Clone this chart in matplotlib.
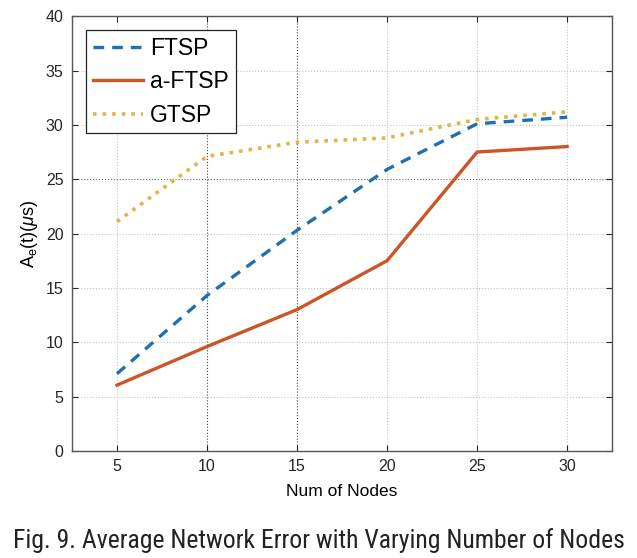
import numpy as np
import matplotlib
matplotlib.use("Agg")
import matplotlib.pyplot as plt
from matplotlib import font_manager

plt.rcParams['font.family'] = ['Liberation Sans', 'DejaVu Sans']
plt.rcParams['mathtext.fontset'] = 'custom'
plt.rcParams['mathtext.rm'] = 'Liberation Sans'
plt.rcParams['mathtext.it'] = 'Liberation Sans:italic'

nodes = [5, 10, 15, 20, 25, 30]
ftsp = [7.1, 14.3, 20.3, 25.9, 30.1, 30.7]
a_ftsp = [6.05, 9.6, 13.0, 17.5, 27.5, 28.0]
gtsp = [21.1, 27.1, 28.4, 28.8, 30.5, 31.2]

fig = plt.figure(figsize=(6.37, 5.58), dpi=100)
ax = fig.add_axes([0.113, 0.192, 0.848, 0.779])

ax.plot(nodes, ftsp, '--', color='#1f70b0', lw=2.4, dashes=(3.2, 2.4), label='FTSP')
ax.plot(nodes, a_ftsp, '-', color='#cc5528', lw=2.4, label='a-FTSP')
ax.plot(nodes, gtsp, ':', color='#e3b446', lw=2.6, label='GTSP')

ax.set_xlim(2.5, 32.5)
ax.set_ylim(0, 40)
ax.set_xticks(nodes)
ax.set_yticks(np.arange(0, 41, 5))
ax.grid(True, color='#c4c4c4', ls=':', lw=0.8)
# the scanned figure shows a few grid lines darker
for i, gl in enumerate(ax.get_xgridlines()):
    if nodes[i] in (10, 15):
        gl.set_color('#444444')
for i, gl in enumerate(ax.get_ygridlines()):
    if i == 5:
        gl.set_color('#666666')

ax.tick_params(direction='in', top=True, right=True, labelsize=11.5, colors='#262626', length=4, pad=6)
for s in ax.spines.values():
    s.set_color('#555555')
    s.set_linewidth(1.0)

ax.set_xlabel('Num of Nodes', fontsize=12.5, labelpad=7)
ax.set_ylabel(r'A$_\mathrm{e}$(t)($\mu$s)', fontsize=13)

leg = ax.legend(loc='upper left', fontsize=16.5, fancybox=False, edgecolor='#262626',
                handlelength=2.2, handletextpad=0.3, borderpad=0.3, labelspacing=0.45,
                borderaxespad=0, bbox_to_anchor=(0.026, 0.968), framealpha=1)
leg.get_frame().set_linewidth(0.9)

# caption is set in a narrow face in the original
cap_font = 'DejaVu Sans'
names = {f.name for f in font_manager.fontManager.ttflist}
for cand in ['Liberation Sans Narrow', 'DejaVu Sans Condensed', 'Roboto Condensed', 'Open Sans Condensed']:
    if cand in names:
        cap_font = cand
        break
fig.text(0.5, 0.031, 'Fig. 9. Average Network Error with Varying Number of Nodes',
         ha='center', va='center', fontsize=18.5 if cap_font != 'DejaVu Sans' else 13.2,
         family=[cap_font, 'DejaVu Sans'], fontstretch='condensed', color='#222222')

fig.savefig('out.png', dpi=100)
